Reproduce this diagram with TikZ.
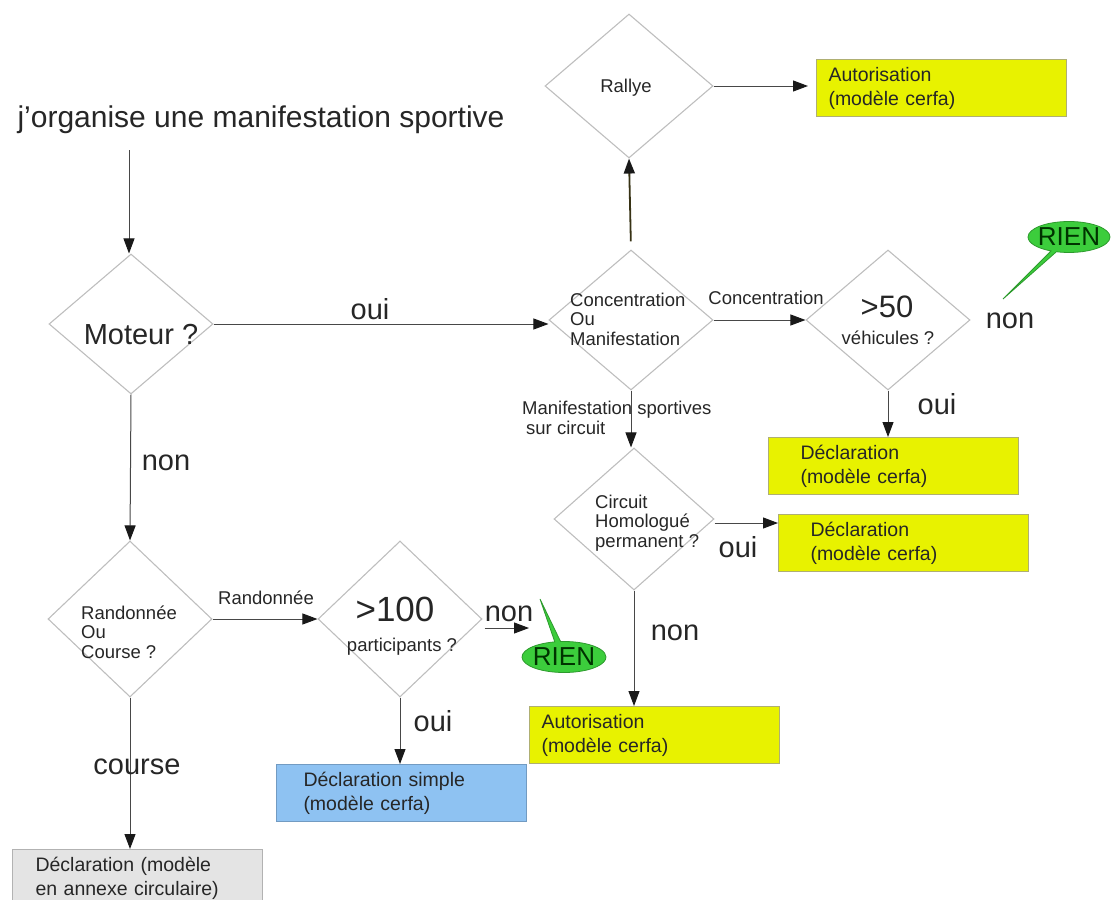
\documentclass[tikz,border=0pt]{standalone}
\usepackage{fontspec}
\setmainfont{Liberation Sans}
\usetikzlibrary{shapes.geometric,shapes.callouts,arrows.meta}
\definecolor{diagray}{RGB}{190,190,190}
\definecolor{cerfayellow}{RGB}{232,242,0}
\definecolor{cerfaedge}{RGB}{175,175,115}
\definecolor{simpleblue}{RGB}{142,194,242}
\definecolor{annexgray}{RGB}{228,228,228}
\definecolor{riengreen}{RGB}{60,205,60}
\definecolor{rallyarrow}{RGB}{55,50,20}
\def\grand{\fontsize{29}{33}\selectfont}
\def\petit{\fontsize{18.5}{19.5}\selectfont}
\def\boitetxt{\fontsize{19.5}{24}\selectfont}
\tikzset{
	choix/.style={diamond, draw=diagray, line width=1.1pt, inner sep=0, minimum width=164, minimum height=140},
	fleche/.style={draw=black!72, line width=1pt, -{Triangle[length=15pt,width=11pt,color=black!90]}},
	lbl/.style={text=black!85, font=\grand, inner sep=0},
	petitlbl/.style={text=black!85, font=\petit, inner sep=0, align=left},
	boite/.style={anchor=north west, minimum width=250, minimum height=57, inner ysep=0, align=left, font=\boitetxt, text=black!85, line width=1pt},
	cerfa/.style={boite, draw=cerfaedge, fill=cerfayellow},
	rien/.style={ellipse callout, draw=riengreen!75!black, fill=riengreen, line width=0.8pt, inner sep=0, minimum width=82, minimum height=31, callout pointer arc=8, text=black!80!green, font=\fontsize{26}{28}\selectfont}
}

\begin{document}
\begin{tikzpicture}[x=1pt,y=-1pt]
	%%%%% START %%%%%
	\useasboundingbox (0,0) rectangle (1113,899);
	
	\node[lbl, font=\fontsize{30}{34}\selectfont] (titre) at (261,120) {j’organise une manifestation sportive};
	\coordinate (depart) at (129,150);
	
	% losanges
	\node[choix] (moteur) at (131,324) {};
	\node[choix, minimum width=168, minimum height=144] (rallye) at (629,86) {};
	\node[choix] (concen) at (631,320) {};
	\node[choix] (vehic) at (888,320) {};
	\node[choix, minimum width=160, minimum height=142] (circuit) at (634,519) {};
	\node[choix, minimum height=156] (rando) at (130,619) {};
	\node[choix, minimum height=156] (cent) at (400,619) {};
	
	% textes des losanges
	\node[lbl] (tmoteur) at (141,335) {Moteur ?};
	\node[petitlbl] (trallye) at (626,88) {Rallye};
	\node[petitlbl, anchor=west] (tconcen) at (570,319) {Concentration\\Ou\\Manifestation};
	\node[lbl, font=\fontsize{31}{34}\selectfont] (tcinquante) at (887,307) {>50};
	\node[petitlbl] (tvehic) at (888,338) {véhicules ?};
	\node[petitlbl, anchor=west] (tcircuit) at (595,523) {Circuit\\Homologué\\permanent ?};
	\node[petitlbl, anchor=west] (trando) at (81,632) {Randonnée\\Ou\\Course ?};
	\node[lbl, font=\fontsize{35}{38}\selectfont] (tcent) at (395,609) {>100};
	\node[petitlbl] (tpart) at (402,647) {participants ?};
	
	% boites
	\node[cerfa, inner xsep=12, text width=226] (autoRallye) at (816,59) {Autorisation\\(modèle cerfa)};
	\node[cerfa, inner xsep=32, text width=186] (decl50) at (768,437) {Déclaration\\(modèle cerfa)};
	\node[cerfa, inner xsep=32, text width=186] (declCirc) at (778,514) {Déclaration\\(modèle cerfa)};
	\node[cerfa, inner xsep=12, text width=226] (autoCirc) at (529,706) {Autorisation\\(modèle cerfa)};
	\node[boite, draw=simpleblue!80!black, fill=simpleblue, inner xsep=27, text width=196] (declSimple) at (276,764) {Déclaration simple\\(modèle cerfa)};
	\node[boite, draw=black!30, fill=annexgray, inner xsep=23, text width=204] (declAnnexe) at (12,849) {Déclaration (modèle\\en annexe circulaire)};
	
	% RIEN
	\node[rien, callout absolute pointer={(1003,299)}] (rienHaut) at (1069,237) {\makebox[46pt]{RIEN}};
	\node[rien, minimum width=84, callout absolute pointer={(540,599)}] (rienBas) at (564,657) {\makebox[48pt]{RIEN}};
	\coordinate (versRien) at (529,628);
	
	% fleches
	\draw[fleche] (depart) -- (depart |- moteur.north);
	\draw[fleche] (moteur.east) -- (moteur.east -| concen.west);
	\draw[fleche, draw=rallyarrow, line width=1.8pt, shorten <=8pt] (concen.north) -- (rallye.south);
	\draw[fleche, shorten >=8pt] (rallye.east) -- (rallye.east -| autoRallye.west);
	\draw[fleche] (concen.east) -- (vehic.west);
	\draw[fleche] (vehic.south) -- (vehic.south |- decl50.north);
	\draw[fleche] (concen.south) -- (concen.south |- circuit.north);
	\draw[fleche] ([yshift=-4pt]circuit.east) -- ([yshift=-4pt]circuit.east -| declCirc.west);
	\draw[fleche] (circuit.south) -- (circuit.south |- autoCirc.north);
	\draw[fleche] (moteur.south) -- (rando.north);
	\draw[fleche] (rando.east) -- (cent.west);
	\draw[fleche] ([xshift=2pt,yshift=-9pt]cent.east) -- (versRien);
	\draw[fleche] (cent.south) -- (cent.south |- declSimple.north);
	\draw[fleche] (rando.south) -- (rando.south |- declAnnexe.north);
	
	% etiquettes
	\node[lbl] (ouiMoteur) at (370,309) {oui};
	\node[lbl] (nonMoteur) at (166,463) {non};
	\node[petitlbl] (lblConcen) at (766,298) {Concentration};
	\node[lbl] (nonVehic) at (1010,321) {non};
	\node[lbl] (ouiVehic) at (937,404) {oui};
	\node[petitlbl, anchor=west] (lblCircuit) at (522,418) {Manifestation sportives\\\hspace{4pt}sur circuit};
	\node[lbl] (ouiCircuit) at (738,547) {oui};
	\node[lbl] (nonCircuit) at (675,633) {non};
	\node[petitlbl] (lblRando) at (266,598) {Randonnée};
	\node[lbl] (nonCent) at (509,614) {non};
	\node[lbl] (ouiCent) at (433,721) {oui};
	\node[lbl] (course) at (137,767) {course};
	
	%%%%% END %%%%%
\end{tikzpicture}
\end{document}
